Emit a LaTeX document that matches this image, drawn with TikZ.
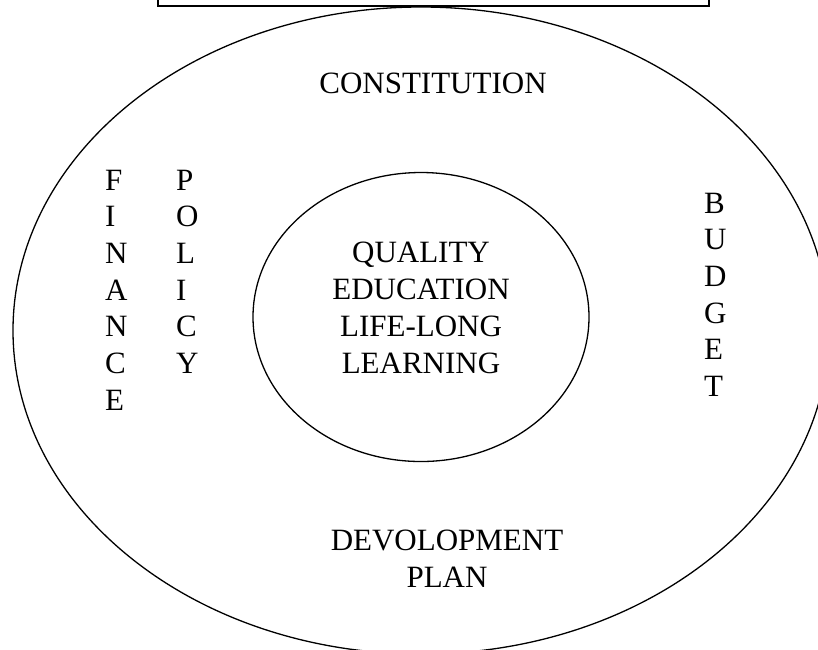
\documentclass[tikz,border=0pt]{standalone}
\usepackage{fontspec}
\setmainfont{Liberation Serif}
\begin{document}
\begin{tikzpicture}[x=1pt,y=-1pt,
  ring/.style={draw=black, line width=1.3pt},
  word/.style={font=\fontsize{31}{37}\selectfont, inner sep=0pt, anchor=base},
  letter/.style={font=\fontsize{31}{37}\selectfont, inner sep=0pt, anchor=base west}]
\useasboundingbox (0,0) rectangle (818,649);
\clip (0,0) rectangle (818,649);
\fill[white] (0,0) rectangle (818,649);

% header box, cut off at the top edge
\draw[ring] (158,-20) rectangle (709,6);

% outer and inner rings
\draw[ring] (421,330.5) ellipse [x radius=408, y radius=323.5];
\draw[ring] (421,317) ellipse [x radius=168, y radius=144.5];

% labels in the outer ring
\node[word] (constitution) at (433,93) {CONSTITUTION};
\node[word] (devplan1) at (447,550) {DEVOLOPMENT};
\node[word] (devplan2) at (447,587) {PLAN};

% vertical words
\foreach \ch [count=\i] in {F,I,N,A,N,C,E}
  \node[letter] (finance\i) at (105,{190+36.7*(\i-1)}) {\ch};
\foreach \ch [count=\i] in {P,O,L,I,C,Y}
  \node[letter] (policy\i) at (176,{190+36.7*(\i-1)}) {\ch};
\foreach \ch [count=\i] in {B,U,D,G,E,T}
  \node[letter] (budget\i) at (704,{213+36.7*(\i-1)}) {\ch};

% centre text
\node[word] (core1) at (421,262) {QUALITY};
\node[word] (core2) at (421,299) {EDUCATION};
\node[word] (core3) at (421,336) {LIFE-LONG};
\node[word] (core4) at (421,373) {LEARNING};
\end{tikzpicture}
\end{document}
